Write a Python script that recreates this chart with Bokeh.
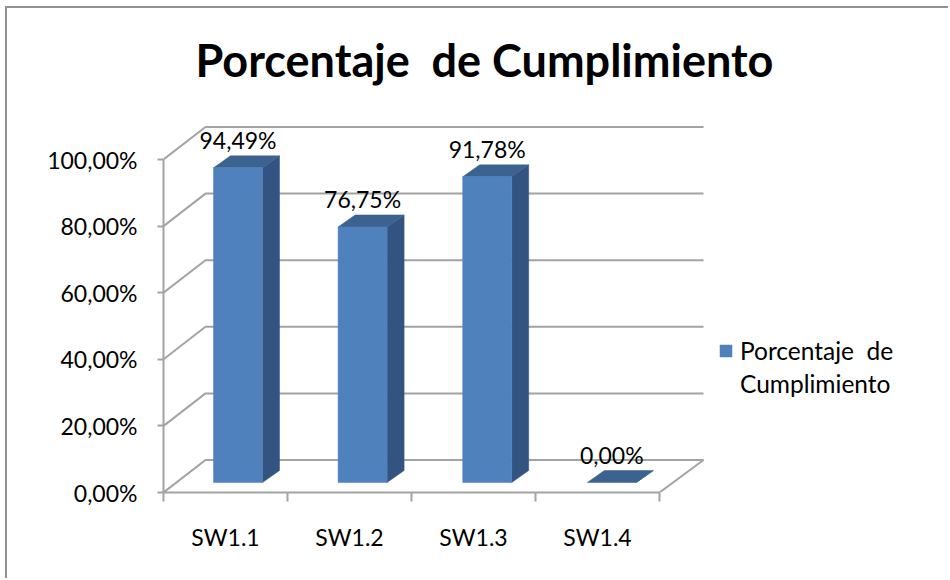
from bokeh.embed import file_html
from bokeh.resources import INLINE
from bokeh.plotting import figure
from bokeh.models import (FixedTicker, Range1d, Label, Legend, LegendItem,
                          ColumnDataSource, LinearAxis)
from bokeh.core.properties import value

categories = ["SW1.1", "SW1.2", "SW1.3", "SW1.4"]
percent = [94.49, 76.75, 91.78, 0.00]
percent_labels = ["94,49%", "76,75%", "91,78%", "0,00%"]
y_ticks = [0, 20, 40, 60, 80, 100]
y_tick_labels = ["0,00%", "20,00%", "40,00%", "60,00%", "80,00%", "100,00%"]
title_text = "Porcentaje \u00a0de Cumplimiento"
series_lines = ["Porcentaje  de", "Cumplimiento"]

FONT = "Lato"
GRID = "#a3a3a3"
W, H = 943, 572                   # page 950x580, outer edge lines sit on the border
LEFT, TOP, BOTTOM = 156, 0, 88
PX_X, PX_Y = 124.0, 3.33          # pixels per category / per percent

xr = Range1d(0, (W - LEFT) / PX_X)
yr = Range1d(0, (H - TOP - BOTTOM) / PX_Y)

p = figure(width=W, height=H, x_range=xr, y_range=yr, output_backend="svg",
           toolbar_location=None, x_axis_location=None, y_axis_location=None,
           min_border_left=LEFT, min_border_top=TOP, min_border_bottom=BOTTOM, min_border_right=0)
p.styles = {"margin": "6px 0 0 5px", "border-top": "2px solid #929292",
            "border-left": "2px solid #929292"}
p.outline_line_color = None
p.grid.visible = False
p.background_fill_color = "white"

# title
p.add_layout(Label(text=title_text, x=186, y=49, x_units="canvas", y_units="canvas",
                   text_align="left", text_baseline="middle", text_font=FONT,
                   text_font_size="45px", text_font_style="bold", text_color="#000000"))

# axes
yax = LinearAxis(bounds=(0, 100), ticker=FixedTicker(ticks=y_ticks),
                 major_label_overrides=dict(zip(y_ticks, y_tick_labels)))
yax.major_tick_out, yax.major_tick_in = 6, 0
yax.minor_tick_line_color = None
yax.major_label_standoff = 20
xpos = [i + 0.5 for i in range(len(categories))]
xax = LinearAxis(bounds=(0, len(categories)),
                 ticker=FixedTicker(ticks=xpos, minor_ticks=list(range(len(categories) + 1))),
                 major_label_overrides=dict(zip(xpos, categories)))
xax.major_tick_line_color = None
xax.major_tick_out, xax.major_tick_in = 0, 0
xax.minor_tick_out, xax.minor_tick_in = 9, 0
xax.major_label_standoff = 21
for ax, size in ((yax, "23px"), (xax, "23px")):
    ax.axis_line_color = GRID
    ax.axis_line_width = 2
    ax.major_tick_line_width = 2
    ax.minor_tick_line_width = 2
    ax.major_tick_line_color = ax.major_tick_line_color and GRID
    ax.minor_tick_line_color = ax.minor_tick_line_color and GRID
    ax.major_label_text_font = FONT
    ax.major_label_text_font_size = size
    ax.major_label_text_color = "#000000"
p.add_layout(yax, "left")
p.add_layout(xax, "below")

# walls
DX, DY = 42 / PX_X, 32.5 / PX_Y
END = 4 + 44 / PX_X
n = len(categories)
gx = [[0, DX, END] for t in y_ticks[1:]] + [[0, DX, END, n]]
gy = [[t, t + DY, t + DY] for t in y_ticks[1:]] + [[0, DY, DY, 0]]
p.multi_line(gx, gy, line_color=GRID, line_width=2)

# bars
BW = 49 / PX_X
BL = 50 / PX_X
STEP = 124.6 / PX_X
BASE = 10 / PX_Y
dx, dy = 17 / PX_X, 12 / PX_Y
lefts = [i * STEP + BL for i in range(n)]
tops = [BASE + v for v in percent]

side_x = [[l + BW, l + BW + dx, l + BW + dx, l + BW] for l in lefts]
side_y = [[BASE, BASE + dy, t + dy, t] for t in tops]
top_x = [[l, l + BW, l + BW + dx, l + dx] for l in lefts]
top_y = [[t, t, t + dy, t + dy] for t in tops]
p.patches(side_x, side_y, fill_color="#335380", line_color="#335380", line_width=0.5)
p.patches(top_x, top_y, fill_color="#3c6290", line_color="#3c6290", line_width=0.5)
front = p.quad(left=lefts[:3], right=[l + BW for l in lefts[:3]], bottom=[BASE] * 3, top=tops[:3],
               fill_color="#4f81bd", line_color="#4f81bd", line_width=0.5)

# data labels
src = ColumnDataSource(dict(x=[l + BW / 2 for l in lefts], y=tops, t=percent_labels))
p.text("x", "y", text="t", source=src, text_font=value(FONT), text_font_size="23px",
       text_align="center", text_baseline="middle", y_offset=-28, text_color="#000000")

# legend
leg = Legend(items=[LegendItem(label=value(series_lines[0]), renderers=[front]),
                    LegendItem(label=value(series_lines[1]), renderers=[])],
             location=(555, 94), border_line_color=None, background_fill_alpha=0,
             label_text_font=FONT, label_text_font_size="24.5px", label_text_color="#000000",
             glyph_width=15, glyph_height=15, label_standoff=7, margin=0, padding=0,
             spacing=4, label_height=29, click_policy="none")
p.add_layout(leg, "center")

open("out.html", "w").write(file_html(p, INLINE))
